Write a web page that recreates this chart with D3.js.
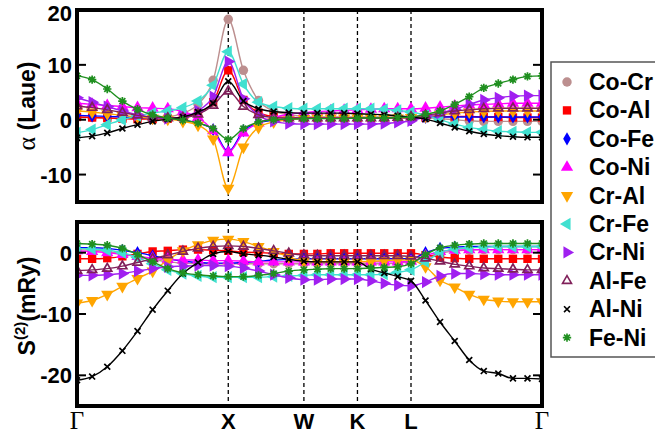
<!DOCTYPE html>
<html>
<head>
<meta charset="utf-8">
<script src="https://cdn.jsdelivr.net/npm/d3@7"></script>
<style>
body { margin: 0; background: #fff; }
svg { font-family: "Liberation Sans", Arial, sans-serif; }
</style>
</head>
<body>
<svg width="655" height="437"></svg>
<script>
// k-path positions of the calculated points (Gamma-X-W-K-L-Gamma)
var kPoints = [0, 0.1, 0.2, 0.3, 0.4, 0.5, 0.6, 0.7, 0.8, 0.9, 1.0, 1.1, 1.2, 1.3, 1.4, 1.5,
	1.589, 1.677, 1.766, 1.854, 1.943, 2.031, 2.120, 2.208,
	2.304, 2.400, 2.497, 2.593, 2.689, 2.785, 2.882, 2.978, 3.074];

var symLabels = ["Γ", "X", "W", "K", "L", "Γ"];
var symPos = [0, 1, 1.5, 1.854, 2.208, 3.074];

var pairNames = ["Co-Cr", "Co-Al", "Co-Fe", "Co-Ni", "Cr-Al", "Cr-Fe", "Cr-Ni", "Al-Fe", "Al-Ni", "Fe-Ni"];

var topTicks = [20, 10, 0, -10];
var botTicks = [0, -10, -20];

// alpha (Laue)
var coCrTop = [0.5, 0.4, 0.3, 0.2, 0.2, 0.3, 0.5, 1.2, 2.8, 7.2, 18.3, 9.0, 3.5, 1.6, 0.9, 0.6, 0.5, 0.5, 0.5, 0.5, 0.5, 0.5, 0.5, 0.5, 0.4, 0.2, 0.0, -0.2, -0.3, -0.3, -0.3, -0.3, -0.3];
var coAlTop = [0.5, 0.4, 0.3, 0.2, 0.1, 0.1, 0.2, 0.5, 1.2, 3.2, 9.0, 3.6, 1.3, 0.6, 0.4, 0.3, 0.3, 0.3, 0.3, 0.3, 0.3, 0.3, 0.3, 0.3, 0.4, 0.5, 0.6, 0.6, 0.5, 0.5, 0.4, 0.4, 0.4];
var coFeTop = [0.8, 0.7, 0.6, 0.5, 0.4, 0.3, 0.2, -0.1, -0.6, -1.8, -5.8, -2.0, -0.6, -0.1, 0.1, 0.2, 0.3, 0.3, 0.3, 0.3, 0.3, 0.3, 0.3, 0.3, 0.4, 0.5, 0.5, 0.5, 0.5, 0.5, 0.5, 0.5, 0.5];
var coNiTop = [3.0, 2.8, 2.6, 2.4, 2.2, 2.1, 2.0, 1.5, 0.4, -2.0, -6.0, -2.4, -0.6, 0.4, 1.0, 1.3, 1.5, 1.6, 1.7, 1.8, 1.9, 2.0, 2.0, 2.0, 2.1, 2.3, 2.5, 2.7, 2.8, 2.9, 3.0, 3.0, 3.0];
var crAlTop = [1.6, 1.4, 1.1, 0.8, 0.5, 0.3, 0.1, -0.3, -1.0, -3.5, -12.5, -5.0, -1.4, -0.4, 0.0, 0.2, 0.3, 0.3, 0.3, 0.3, 0.3, 0.3, 0.3, 0.4, 0.6, 0.9, 1.2, 1.4, 1.5, 1.6, 1.6, 1.6, 1.6];
var crFeTop = [-2.4, -1.8, -0.9, 0.0, 0.7, 1.2, 1.6, 2.2, 3.4, 6.3, 12.4, 6.5, 3.2, 2.4, 2.1, 2.0, 2.0, 2.0, 2.0, 2.0, 2.0, 1.9, 1.7, 1.4, 0.8, 0.0, -0.8, -1.4, -1.8, -2.1, -2.2, -2.3, -2.3];
var crNiTop = [4.0, 3.2, 2.4, 1.6, 0.9, 0.4, 0.2, 0.5, 1.6, 4.2, 10.6, 3.8, 0.8, -0.3, -0.7, -0.8, -0.8, -0.8, -0.8, -0.8, -0.8, -0.7, -0.5, -0.2, 0.5, 1.2, 1.9, 2.8, 3.6, 4.0, 4.3, 4.4, 4.4];
var alFeTop = [2.5, 2.2, 1.8, 1.3, 0.8, 0.5, 0.3, 0.4, 1.0, 2.6, 5.2, 2.4, 0.9, 0.4, 0.3, 0.3, 0.3, 0.3, 0.3, 0.3, 0.3, 0.3, 0.4, 0.5, 0.8, 1.2, 1.6, 1.8, 2.0, 2.1, 2.1, 2.1, 2.1];
var alNiTop = [-3.3, -3.0, -2.4, -1.6, -0.9, -0.3, 0.1, 0.5, 1.4, 3.0, 7.0, 3.4, 2.0, 1.5, 1.3, 1.2, 1.2, 1.2, 1.2, 1.1, 1.0, 0.9, 0.7, 0.5, 0.1, -0.6, -1.4, -2.1, -2.6, -2.9, -3.1, -3.2, -3.2];
var feNiTop = [8.0, 7.3, 5.6, 3.4, 1.9, 0.9, 0.3, -0.1, -0.6, -1.6, -3.6, -1.6, -0.4, 0.0, 0.1, 0.2, 0.2, 0.2, 0.2, 0.3, 0.3, 0.3, 0.4, 0.5, 1.0, 1.6, 2.8, 4.2, 5.8, 6.6, 7.3, 7.9, 8.0];

// S(2) in mRy
var coCrBot = [0.5, 0.4, 0.2, -0.2, -0.7, -1.1, -1.5, -1.7, -1.8, -1.8, -1.8, -1.8, -1.8, -1.8, -1.8, -1.8, -1.8, -1.8, -1.8, -1.8, -1.8, -1.8, -1.7, -1.5, -0.8, -0.1, 0.3, 0.4, 0.5, 0.5, 0.5, 0.5, 0.5];
var coAlBot = [-1.0, -1.0, -0.9, -0.6, -0.2, 0.2, 0.3, 0.5, 0.5, 0.4, 0.3, 0.1, 0.0, -0.1, -0.2, -0.2, -0.2, -0.1, -0.1, -0.1, -0.1, -0.1, -0.1, -0.1, -0.4, -0.7, -0.9, -1.0, -1.0, -1.0, -1.0, -1.0, -1.0];
var coFeBot = [0.8, 0.8, 0.7, 0.4, 0.0, -0.5, -1.0, -1.4, -1.6, -1.7, -1.7, -1.6, -1.4, -1.2, -1.1, -1.0, -1.0, -1.0, -1.0, -1.0, -1.0, -1.0, -1.0, -1.0, 0.0, 0.7, 0.9, 1.0, 1.0, 1.0, 1.0, 1.0, 1.0];
var coNiBot = [0.3, 0.2, 0.0, -0.3, -0.6, -0.9, -1.1, -1.2, -1.2, -1.3, -1.3, -1.4, -1.5, -1.5, -1.5, -1.5, -1.5, -1.5, -1.5, -1.5, -1.5, -1.5, -1.5, -1.4, -0.5, 0.2, 0.4, 0.5, 0.5, 0.5, 0.5, 0.5, 0.5];
var crAlBot = [-8.2, -7.8, -6.8, -5.5, -4.2, -3.0, -1.2, 0.3, 1.3, 2.0, 2.2, 1.8, 1.0, 0.2, -0.7, -1.4, -1.5, -1.5, -1.5, -1.5, -1.4, -1.3, -1.2, -1.2, -2.3, -4.5, -5.6, -6.8, -7.6, -7.9, -8.0, -8.0, -8.0];
var crFeBot = [0.7, 0.6, 0.4, 0.0, -0.8, -1.8, -2.8, -3.4, -3.8, -4.0, -4.0, -4.0, -4.0, -3.9, -3.8, -3.7, -3.6, -3.6, -3.6, -3.6, -3.6, -3.5, -3.2, -2.8, -1.5, 0.0, 0.6, 0.8, 0.9, 1.0, 1.0, 1.0, 1.0];
var crNiBot = [-3.7, -3.7, -3.6, -3.4, -3.0, -2.6, -2.3, -2.2, -2.1, -2.1, -2.2, -2.5, -3.0, -3.6, -4.1, -4.4, -4.4, -4.3, -4.3, -4.3, -4.6, -5.0, -5.3, -5.4, -4.8, -3.8, -3.4, -3.4, -3.5, -3.6, -3.6, -3.6, -3.6];
var alFeBot = [-2.9, -2.8, -2.6, -2.2, -1.6, -1.0, -0.4, 0.2, 0.7, 1.0, 1.1, 1.0, 0.7, 0.3, -0.1, -0.4, -0.5, -0.5, -0.5, -0.5, -0.5, -0.5, -0.5, -0.6, -0.9, -1.4, -1.9, -2.2, -2.5, -2.6, -2.7, -2.8, -2.8];
var alNiBot = [-20.8, -20.2, -18.6, -16.0, -12.8, -9.3, -6.2, -3.4, -1.6, -0.2, 0.2, -0.2, -0.4, -0.7, -1.1, -1.4, -1.5, -1.5, -1.5, -1.5, -2.7, -3.3, -3.9, -4.6, -7.8, -11.3, -14.4, -17.5, -19.3, -19.7, -20.5, -20.5, -20.6];
var feNiBot = [1.5, 1.4, 1.2, 0.7, -0.3, -1.5, -2.6, -3.3, -3.6, -3.8, -3.9, -3.9, -3.7, -3.4, -3.0, -2.8, -2.7, -2.6, -2.6, -2.6, -2.5, -2.4, -2.3, -1.8, -0.3, 0.8, 1.2, 1.4, 1.5, 1.5, 1.5, 1.5, 1.5];

var topValues = [coCrTop, coAlTop, coFeTop, coNiTop, crAlTop, crFeTop, crNiTop, alFeTop, alNiTop, feNiTop];
var botValues = [coCrBot, coAlBot, coFeBot, coNiBot, crAlBot, crFeBot, crNiBot, alFeBot, alNiBot, feNiBot];

var colors = ["#bc8f8f", "#ff0000", "#0000ff", "#ff00ff", "#ffa500", "#40e0d0", "#a020f0", "#80205a", "#000000", "#1f8f1f"];

// custom marker shapes
var symX = { draw: function(ctx, size) {
	var r = Math.sqrt(size) / 2;
	ctx.moveTo(-r, -r); ctx.lineTo(r, r);
	ctx.moveTo(r, -r); ctx.lineTo(-r, r);
}};
var symStar = { draw: function(ctx, size) {
	var r = Math.sqrt(size) / 2;
	for (var i = 0; i < 4; i++) {
		var a = i * Math.PI / 4;
		ctx.moveTo(-r * Math.cos(a), -r * Math.sin(a));
		ctx.lineTo(r * Math.cos(a), r * Math.sin(a));
	}
}};

// shape, rotation, filled?, size
var markers = [
	{type: d3.symbolCircle, rot: 0, fill: true, size: 70},
	{type: d3.symbolSquare, rot: 0, fill: true, size: 70},
	{type: d3.symbolDiamond, rot: 0, fill: true, size: 50},
	{type: d3.symbolTriangle, rot: 0, fill: true, size: 65},
	{type: d3.symbolTriangle, rot: 180, fill: true, size: 65},
	{type: d3.symbolTriangle, rot: -90, fill: true, size: 65},
	{type: d3.symbolTriangle, rot: 90, fill: true, size: 65},
	{type: d3.symbolTriangle, rot: 0, fill: false, size: 35},
	{type: symX, rot: 0, fill: false, size: 35},
	{type: symStar, rot: 0, fill: false, size: 70}
];

var svg = d3.select("svg");

var x = d3.scaleLinear().domain([0, 3.074]).range([77, 542]);
var yTop = d3.scaleLinear().domain([-15, 20]).range([202, 10]);
var yBot = d3.scaleLinear().domain([-25, 5]).range([406, 222]);

var defs = svg.append("defs");

function drawPanel(id, y, values, ticks) {
	var y0 = y.range()[1], y1 = y.range()[0];

	defs.append("clipPath").attr("id", id)
		.append("rect")
		.attr("x", x.range()[0]).attr("y", y0)
		.attr("width", x.range()[1] - x.range()[0]).attr("height", y1 - y0);

	var g = svg.append("g");

	// high symmetry lines
	g.selectAll("line.sym")
		.data(symPos.slice(1, 5))
		.enter().append("line")
		.attr("x1", function(d) { return x(d); })
		.attr("x2", function(d) { return x(d); })
		.attr("y1", y0).attr("y2", y1)
		.attr("stroke", "#000")
		.attr("stroke-width", 1.3)
		.attr("stroke-dasharray", "4,3");

	var plot = g.append("g").attr("clip-path", "url(#" + id + ")");

	var line = d3.line()
		.x(function(d, i) { return x(kPoints[i]); })
		.y(function(d) { return y(d); })
		.curve(d3.curveMonotoneX);

	values.forEach(function(vals, s) {
		var m = markers[s];
		var sg = plot.append("g");
		sg.append("path")
			.attr("d", line(vals))
			.attr("fill", "none")
			.attr("stroke", colors[s])
			.attr("stroke-width", 1.4);
		sg.selectAll("path.mk")
			.data(vals)
			.enter().append("path")
			.attr("class", "mk")
			.attr("d", d3.symbol().type(m.type).size(m.size))
			.attr("transform", function(d, i) {
				return "translate(" + x(kPoints[i]) + "," + y(d) + ") rotate(" + m.rot + ")";
			})
			.attr("fill", m.fill ? colors[s] : "none")
			.attr("stroke", m.fill ? "none" : colors[s])
			.attr("stroke-width", 1.7);
	});

	// ticks on both sides, pointing inward
	ticks.forEach(function(t) {
		g.append("line")
			.attr("x1", x.range()[0]).attr("x2", x.range()[0] + 9)
			.attr("y1", y(t)).attr("y2", y(t))
			.attr("stroke", "#000").attr("stroke-width", 2);
		g.append("line")
			.attr("x1", x.range()[1]).attr("x2", x.range()[1] - 9)
			.attr("y1", y(t)).attr("y2", y(t))
			.attr("stroke", "#000").attr("stroke-width", 2);
		g.append("text")
			.attr("x", x.range()[0] - 5)
			.attr("y", Math.max(y(t) + 8, 21))
			.attr("text-anchor", "end")
			.attr("font-size", 22)
			.attr("font-weight", "bold")
			.text(t);
	});

	g.append("rect")
		.attr("x", x.range()[0]).attr("y", y0)
		.attr("width", x.range()[1] - x.range()[0]).attr("height", y1 - y0)
		.attr("fill", "none")
		.attr("stroke", "#000")
		.attr("stroke-width", 4);
}

drawPanel("clipTop", yTop, topValues, topTicks);
drawPanel("clipBot", yBot, botValues, botTicks);

// k-path labels
svg.selectAll("text.klab")
	.data(symLabels)
	.enter().append("text")
	.attr("class", "klab")
	.attr("x", function(d, i) { return x(symPos[i]); })
	.attr("y", 429)
	.attr("text-anchor", "middle")
	.attr("font-size", function(d) { return d == "Γ" ? 25 : 22; })
	.attr("font-weight", function(d) { return d == "Γ" ? "normal" : "bold"; })
	.attr("font-family", function(d) { return d == "Γ" ? "Liberation Serif, serif" : null; })
	.text(function(d) { return d; });

// axis titles
var t1 = svg.append("text")
	.attr("transform", "translate(35,106) rotate(-90)")
	.attr("text-anchor", "middle")
	.attr("font-size", 23);
t1.append("tspan").attr("font-family", "Liberation Serif, serif").attr("font-size", 26).text("α");
t1.append("tspan").attr("font-weight", "bold").text(" (Laue)");

var t2 = svg.append("text")
	.attr("transform", "translate(35,306) rotate(-90)")
	.attr("text-anchor", "middle")
	.attr("font-size", 23)
	.attr("font-weight", "bold");
t2.append("tspan").text("S");
t2.append("tspan").attr("font-size", 15).attr("dy", -10).text("(2)");
t2.append("tspan").attr("dy", 10).text("(mRy)");

// legend
var legend = svg.append("g");
legend.append("rect")
	.attr("x", 551).attr("y", 62)
	.attr("width", 120).attr("height", 295)
	.attr("fill", "#fff")
	.attr("stroke", "#555")
	.attr("stroke-width", 1.5);

var leg = legend.selectAll("g.item")
	.data(pairNames)
	.enter().append("g")
	.attr("class", "item")
	.attr("transform", function(d, i) { return "translate(0," + (82 + i * 28.4) + ")"; });

leg.append("path")
	.attr("d", function(d, i) { return d3.symbol().type(markers[i].type).size(markers[i].size)(); })
	.attr("transform", function(d, i) { return "translate(567,0) rotate(" + markers[i].rot + ")"; })
	.attr("fill", function(d, i) { return markers[i].fill ? colors[i] : "none"; })
	.attr("stroke", function(d, i) { return markers[i].fill ? "none" : colors[i]; })
	.attr("stroke-width", 1.6);

leg.append("text")
	.attr("x", 589)
	.attr("y", 8)
	.attr("font-size", 23)
	.attr("font-weight", "bold")
	.text(function(d) { return d; });
</script>
</body>
</html>
